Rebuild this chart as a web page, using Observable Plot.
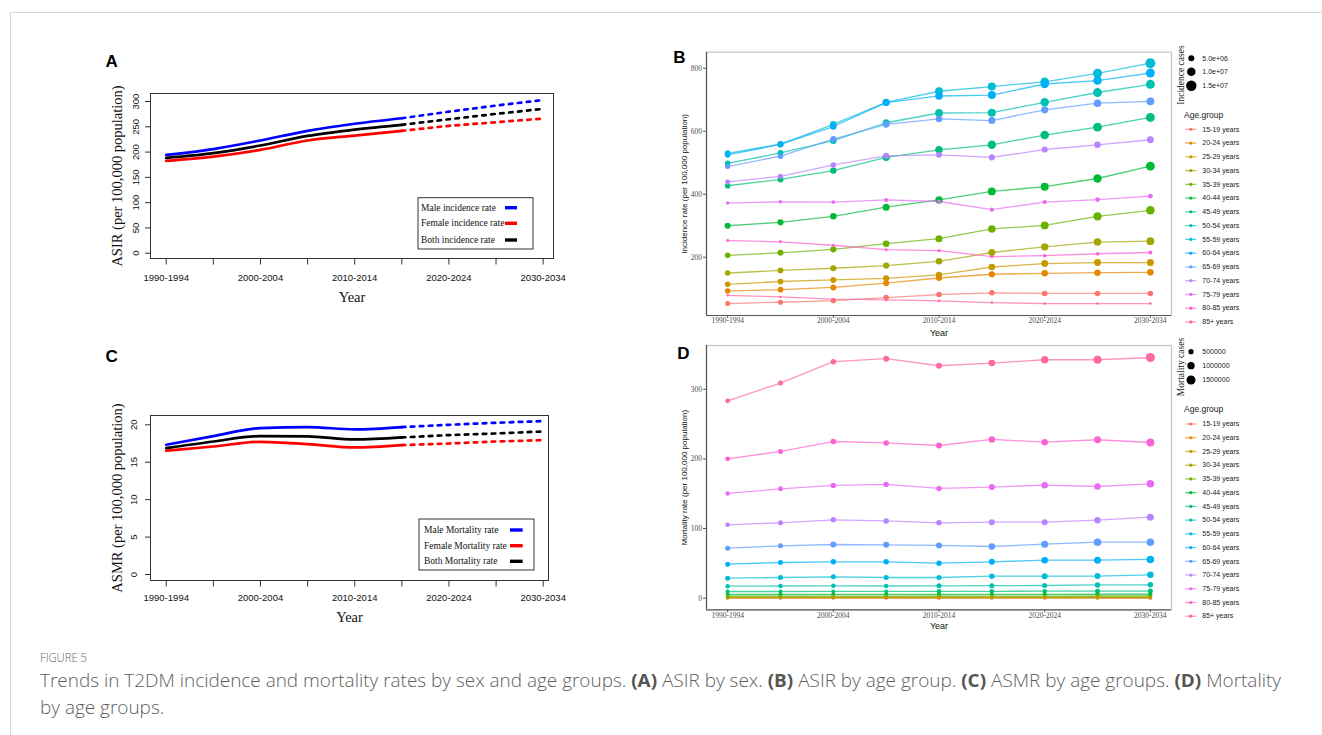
<!DOCTYPE html>
<html><head><meta charset="utf-8">
<script src="https://cdn.jsdelivr.net/npm/d3@7"></script>
<script src="https://cdn.jsdelivr.net/npm/@observablehq/plot@0.6"></script>
<style>
html,body{margin:0;padding:0;background:#fff;width:1322px;height:735px;overflow:hidden;position:relative;font-family:"Liberation Sans",Arial,sans-serif}
.panel{position:absolute}
.panel svg{overflow:visible}
#topline{position:absolute;left:10px;top:12px;width:1312px;height:1px;background:#d6d6d6}
#leftline{position:absolute;left:10px;top:12px;width:1px;height:723px;background:#d6d6d6}
#figlabel{position:absolute;left:40px;top:649px;font-family:"Open Sans";font-weight:300;font-size:12.5px;color:#666;white-space:nowrap;transform-origin:0 0;transform:scaleX(0.9)}
#caption{position:absolute;left:40px;top:667px;font-family:"Open Sans";font-weight:300;font-size:17.5px;line-height:27px;color:#5e5e5e;white-space:nowrap;transform-origin:0 0}
#caption b{color:#555;font-weight:700}
</style>
</head><body>
<div id="topline"></div><div id="leftline"></div>
<div id="pA" class="panel" style="left:95px;top:40px"></div>
<div id="pB" class="panel" style="left:660px;top:40px"></div>
<div id="pC" class="panel" style="left:95px;top:338px"></div>
<div id="pD" class="panel" style="left:660px;top:338px"></div>
<div id="figlabel">FIGURE 5</div>
<div id="caption"><span id="capline1">Trends in T2DM incidence and mortality rates by sex and age groups. <b>(A)</b> ASIR by sex. <b>(B)</b> ASIR by age group. <b>(C)</b> ASMR by age groups. <b>(D)</b> Mortality</span><br>by age groups.</div>
<script>
// ---------- shared categories ----------
const periods = ["1990-1994","1995-1999","2000-2004","2005-2009","2010-2014","2015-2019","2020-2024","2025-2029","2030-2034"];
const periodStart = [1990,1995,2000,2005,2010,2015,2020,2025,2030];
const labeledStarts = [1990,2000,2010,2020,2030];

// ---------- panel A / C : age-standardised rates by sex ----------
const asirNames = ["Male incidence rate","Female incidence rate","Both incidence rate"];
const asmrNames = ["Male Mortality rate","Female Mortality rate","Both Mortality rate"];
const sexColors = ["#0000FF","#FF0000","#000000"];
const asirMale   = [194.5, 206, 223, 242, 256, 267, 280, 292, 303];
const asirFemale = [182.6, 191, 204.5, 223, 232.7, 242, 252, 259, 266.4];
const asirBoth   = [188.6, 198, 213, 232, 244.6, 254, 265, 275.6, 285.5];
const asmrMale   = [17.33, 18.49, 19.55, 19.69, 19.38, 19.69, 20.0, 20.27, 20.49];
const asmrFemale = [16.53, 17.10, 17.73, 17.42, 16.97, 17.28, 17.50, 17.77, 17.95];
const asmrBoth   = [16.88, 17.77, 18.49, 18.44, 18.04, 18.31, 18.62, 18.84, 19.11];
const asirTicks = [0,50,100,150,200,250,300];
const asmrTicks = [0,5,10,15,20];

// ---------- panel B / D : by age group ----------
const groups = ["15-19 years","20-24 years","25-29 years","30-34 years","35-39 years","40-44 years","45-49 years","50-54 years","55-59 years","60-64 years","65-69 years","70-74 years","75-79 years","80-85 years","85+ years"];
const groupColors = ["#F8766D","#E58700","#C99800","#A3A500","#6BB100","#00BA38","#00BF7D","#00C0AF","#00BCD8","#00B0F6","#619CFF","#B983FF","#E76BF3","#FD61D1","#FF67A4"];

// incidence rate per 100,000 (rows follow groups, columns follow periods)
const incidenceRates = [
  [53, 57, 62, 72, 81.5, 87, 85, 85, 85],
  [93, 97, 104, 117.5, 134, 146, 149, 151, 152],
  [114, 123, 128, 133, 144, 169, 180, 183, 183],
  [150, 158, 165, 173.5, 187, 215, 233, 248, 251],
  [206, 214, 225, 243, 259, 290, 301, 330, 349],
  [300, 311, 330, 359, 382, 409, 424, 450, 489],
  [427, 447, 475, 517, 541, 557, 588, 613, 644],
  [498, 531, 570, 627, 658, 659, 692, 723, 749],
  [530, 559, 622, 692, 727, 742, 757, 784, 816],
  [525, 558, 615, 691, 712, 715, 750, 761, 785],
  [488, 521, 575, 622, 639, 634, 668, 689, 695],
  [439, 457, 493, 522, 525, 517, 542, 557, 573],
  [372, 376, 375, 382, 377, 351, 375, 383, 394],
  [253, 249, 238, 224, 221, 202, 205, 211, 215],
  [79, 74, 67, 64.5, 61.4, 56, 53, 53, 53]
];
// incidence cases, millions
const incidenceCasesM = [
  [3.5,3.6,3.8,4.2,4.2,4.3,4.3,4.2,4.2],
  [4.2,4.4,4.8,5.0,5.2,5.3,5.8,5.9,6.0],
  [4.2,4.5,4.9,5.2,5.7,6.1,6.5,6.7,6.8],
  [4.2,4.6,5.1,5.4,6.0,6.8,7.5,7.8,8.5],
  [4.3,4.9,5.3,6.0,6.8,7.8,8.6,9.6,10.0],
  [5.0,5.3,5.9,6.8,7.6,8.7,8.9,9.8,11.0],
  [4.4,5.0,5.8,6.9,7.8,9.8,10.2,11.0,11.3],
  [4.3,4.9,5.9,6.9,8.4,8.9,9.8,10.8,11.2],
  [4.8,5.2,6.0,7.0,8.6,8.9,9.9,11.2,13.5],
  [4.4,5.0,5.8,6.9,7.8,8.8,9.8,10.2,11.0],
  [3.5,4.2,5.0,6.3,6.0,6.8,7.0,7.8,8.6],
  [3.4,3.6,4.2,4.9,4.9,5.1,5.3,5.9,6.5],
  [1.7,1.8,1.9,2.2,2.3,2.4,2.6,2.9,3.3],
  [1.2,1.2,1.3,1.3,1.4,1.6,1.7,1.9,2.2],
  [0.8,0.8,0.85,0.85,0.9,0.9,0.95,1.0,1.0]
];
// mortality rate per 100,000
const mortalityRates = [
  [0.3,0.3,0.3,0.3,0.3,0.3,0.3,0.3,0.3],
  [0.6,0.6,0.6,0.6,0.6,0.6,0.6,0.6,0.6],
  [1.0,1.0,1.0,1.0,1.0,1.0,1.0,1.0,1.0],
  [1.6,1.6,1.6,1.6,1.6,1.6,1.6,1.6,1.6],
  [2.9,2.9,3.0,3.0,2.9,3.0,3.0,3.1,3.1],
  [5.3,5.3,5.4,5.4,5.3,5.4,5.5,5.6,5.6],
  [9.6,9.6,9.7,9.7,9.8,9.9,10.0,10.0,10.2],
  [17.2,17.5,17.7,17.5,17.7,18.0,18.2,19.0,19.2],
  [28.7,29.7,30.7,29.7,29.7,31.6,31.6,31.8,33.6],
  [48.9,51.2,52.2,52.2,50.3,52.2,54.6,54.6,55.6],
  [71.8,75.2,77.1,76.6,75.7,74.2,77.6,80.4,80.4],
  [105.4,108.2,112.5,111,108.2,109.2,109.2,112,116.3],
  [150.4,157,161.9,163.3,157.6,159.5,162.3,160.4,164.3],
  [200.2,210.7,225,223,219.3,228,224,227.5,223.6],
  [283.5,309,339.6,344,333.8,337.6,342.4,342.4,345.7]
];
// mortality cases, thousands
const mortalityCasesK = [
  [227,227,227,227,227,227,227,227,227],
  [227,227,227,227,227,227,227,227,227],
  [227,227,227,227,227,227,227,227,227],
  [227,227,227,227,227,227,227,227,227],
  [227,227,240,250,260,270,280,290,296],
  [296,296,296,296,296,296,296,296,296],
  [296,296,296,296,375,375,375,463,463],
  [375,375,375,375,463,463,463,560,560],
  [463,463,463,463,463,560,667,667,782],
  [463,463,560,560,560,667,782,907,1042],
  [463,463,667,667,667,782,907,1042,1042],
  [375,463,560,560,560,667,667,782,907],
  [375,463,560,560,560,667,782,782,1042],
  [410,463,560,560,667,782,782,907,1185],
  [410,463,560,667,667,782,1042,1185,1500]
];
const incSizeValues = [5e6, 1e7, 1.5e7];
const incSizeLabels = ["5.0e+06","1.0e+07","1.5e+07"];
const morSizeValues = [500000, 1000000, 1500000];
const morSizeLabels = ["500000","1000000","1500000"];

const SERIF = "'Liberation Serif','Times New Roman',serif";
const SANS = "'Liberation Sans',Arial,sans-serif";

// ---------- R-style panels (A, C) ----------
function sexPanel(cfg) {
  const rows = [];
  cfg.series.forEach((vals, k) => vals.forEach((v, i) => rows.push({year: periodStart[i], value: v, sex: cfg.names[k], i})));
  const plot = Plot.plot({
    width: cfg.width, height: cfg.height,
    marginLeft: cfg.ml, marginRight: cfg.mr, marginTop: cfg.mt, marginBottom: cfg.mb,
    x: {domain: cfg.xDomain},
    y: {domain: cfg.yDomain},
    color: {domain: cfg.names, range: sexColors},
    style: {fontFamily: SANS, fontSize: "9.5px", color: "#222", background: "transparent", overflow: "visible"},
    marks: [
      Plot.line(rows.filter(d => d.i <= 5), {x: "year", y: "value", z: "sex", stroke: "sex", strokeWidth: 2.7, curve: "monotone-x"}),
      Plot.line(rows.filter(d => d.i >= 5), {x: "year", y: "value", z: "sex", stroke: "sex", strokeWidth: 2.7, strokeDasharray: "3.5,5.5"}),
      Plot.frame({stroke: "#333", strokeWidth: 1}),
      Plot.axisX({ticks: periodStart, tickSize: 6.5, tickFormat: () => "", label: null, stroke: "#333"}),
      Plot.text(labeledStarts, {x: d => d, frameAnchor: "bottom", dy: cfg.xLabDy, text: d => periods[periodStart.indexOf(d)], fontSize: 9.5, lineAnchor: "middle", fill: "#111"}),
      Plot.axisY({ticks: cfg.yTicks, tickSize: 5, tickFormat: () => "", label: null, stroke: "#333"}),
      Plot.text(cfg.yTicks, {y: d => d, frameAnchor: "left", dx: cfg.yLabDx, rotate: -90, text: d => String(d), fontSize: 9.5, textAnchor: "middle", lineAnchor: "middle", fill: "#111"}),
      Plot.text(["Year"], {frameAnchor: "bottom", dy: cfg.titleDy, text: d => d, fontFamily: SERIF, fontSize: 14.5, lineAnchor: "middle", fill: "#111"}),
      Plot.text([cfg.yLabel], {frameAnchor: "left", dx: -33, rotate: -90, text: d => d, fontFamily: SERIF, fontSize: 14.5, textAnchor: "middle", lineAnchor: "middle", fill: "#111"}),
      Plot.text([cfg.letter], {frameAnchor: "top-left", dx: cfg.letterDx, dy: cfg.letterDy, text: d => d, fontFamily: SANS, fontWeight: "bold", fontSize: 17, textAnchor: "start", lineAnchor: "middle", fill: "#000"})
    ]
  });
  // legend box
  const g = d3.select(plot).append("g").attr("text-anchor", "start");
  const b = cfg.legend;
  g.append("rect").attr("x", b.x).attr("y", b.y).attr("width", b.w).attr("height", b.h)
    .attr("fill", "#fff").attr("stroke", "#333").attr("stroke-width", 1);
  cfg.names.forEach((n, k) => {
    const yy = b.y + b.rows[k];
    g.append("text").attr("x", b.x + b.tx).attr("y", yy).attr("dy", "0.32em").attr("text-anchor", "start")
      .style("font-family", SERIF).style("font-size", "9.5px").attr("fill", "#111").text(n);
    g.append("line").attr("x1", b.x + b.s0).attr("x2", b.x + b.s1).attr("y1", yy).attr("y2", yy)
      .attr("stroke", sexColors[k]).attr("stroke-width", 3.4);
  });
  document.getElementById(cfg.el).appendChild(plot);
}

sexPanel({el: "pA", width: 470, height: 275, ml: 55, mr: 12, mt: 53, mb: 57,
  xDomain: [1988.33, 2031.1], yDomain: [-10.5, 315.9], yTicks: asirTicks,
  series: [asirMale, asirFemale, asirBoth], names: asirNames,
  xLabDy: 19, yLabDx: -15, titleDy: 39, yLabel: "ASIR (per 100,000 population)",
  letter: "A", letterDx: -45, letterDy: -32,
  legend: {x: 323, y: 157.7, w: 115, h: 51.3, tx: 3, rows: [10, 25.6, 42.3], s0: 87, s1: 99}});

sexPanel({el: "pC", width: 470, height: 292, ml: 55, mr: 17, mt: 77, mb: 50,
  xDomain: [1988.33, 2030.56], yDomain: [-0.8, 21.24], yTicks: asmrTicks,
  series: [asmrMale, asmrFemale, asmrBoth], names: asmrNames,
  xLabDy: 17.7, yLabDx: -16.7, titleDy: 37.3, yLabel: "ASMR (per 100,000 population)",
  letter: "C", letterDx: -45, letterDy: -58.5,
  legend: {x: 324, y: 181, w: 115, h: 51, tx: 5, rows: [11, 26.7, 42.3], s0: 91, s1: 103.7}});

// ---------- ggplot-style panels (B, D) ----------
function agePanel(cfg) {
  const rows = [];
  groups.forEach((g, k) => periodStart.forEach((yr, i) => rows.push({year: yr, value: cfg.rates[k][i], cases: cfg.cases[k][i] * cfg.caseUnit, group: g})));
  const plot = Plot.plot({
    width: cfg.width, height: cfg.height, marginLeft: 46, marginRight: 139, marginTop: cfg.mt, marginBottom: cfg.mb,
    x: {domain: [1988, 2032]},
    y: {domain: cfg.yDomain},
    color: {domain: groups, range: groupColors},
    r: {domain: [0, cfg.rMaxValue], range: [0, cfg.rMaxPx]},
    style: {fontFamily: SANS, fontSize: "8px", color: "#333", background: "transparent", overflow: "visible"},
    marks: [
      Plot.frame({stroke: "#c4c4c4", strokeWidth: 1.2}),
      Plot.ruleX([1988], {stroke: "#5a5a5a", strokeWidth: 1.2}),
      Plot.ruleY([cfg.yDomain[0]], {stroke: "#5a5a5a", strokeWidth: 1.2}),
      Plot.axisX({ticks: labeledStarts, tickSize: 3, tickFormat: () => "", label: null, stroke: "#5a5a5a"}),
      Plot.text(labeledStarts, {x: d => d, frameAnchor: "bottom", dy: cfg.xLabDy, text: d => periods[periodStart.indexOf(d)], fontFamily: SERIF, fontSize: 7.5, lineAnchor: "middle", fill: "#4d4d4d"}),
      Plot.axisY({ticks: cfg.yTicks, tickSize: 3, tickFormat: () => "", label: null, stroke: "#5a5a5a"}),
      Plot.text(cfg.yTicks, {y: d => d, frameAnchor: "left", dx: -4.5, text: d => String(d), fontFamily: SERIF, fontSize: 7.5, textAnchor: "end", lineAnchor: "middle", fill: "#4d4d4d"}),
      Plot.line(rows, {x: "year", y: "value", z: "group", stroke: "group", strokeWidth: 1.3, strokeOpacity: 0.7}),
      Plot.dot(rows, {x: "year", y: "value", r: "cases", fill: "group"}),
      Plot.text([cfg.yTitle], {frameAnchor: "left", dx: -22, rotate: -90, text: d => d, fontFamily: SANS, fontSize: 8, textAnchor: "middle", lineAnchor: "middle", fill: "#111"}),
      Plot.text(["Year"], {frameAnchor: "bottom", dy: cfg.yearDy, text: d => d, fontFamily: SANS, fontSize: 9, lineAnchor: "middle", fill: "#111"}),
      Plot.text([cfg.letter], {frameAnchor: "top-left", dx: cfg.letterDx, dy: cfg.letterDy, text: d => d, fontFamily: SANS, fontWeight: "bold", fontSize: 17, textAnchor: "start", lineAnchor: "middle", fill: "#000"})
    ]
  });
  const rScale = plot.scale("r");
  const L = cfg.legend;
  const g = d3.select(plot).append("g").attr("text-anchor", "start").style("font-family", SANS).attr("fill", "#1a1a1a");
  g.append("text").attr("transform", `translate(${L.titleX},${L.titleY}) rotate(-90)`)
    .attr("text-anchor", "middle").attr("dy", "0.32em").style("font-family", SERIF).style("font-size", "9.5px").text(cfg.sizeTitle);
  cfg.sizeValues.forEach((v, i) => {
    g.append("circle").attr("cx", L.circleX).attr("cy", L.sizeY[i]).attr("r", rScale.apply(v)).attr("fill", "#000");
    g.append("text").attr("x", L.labelX).attr("y", L.sizeY[i]).attr("dy", "0.32em").attr("text-anchor", "start").style("font-size", "7px").text(cfg.sizeLabels[i]);
  });
  g.append("text").attr("x", L.groupTitleX).attr("y", L.groupTitleY).attr("dy", "0.32em").attr("text-anchor", "start").style("font-size", "8.5px").text("Age.group");
  groups.forEach((grp, i) => {
    const yy = L.item0 + i * L.itemStep;
    g.append("line").attr("x1", L.keyX0).attr("x2", L.keyX1).attr("y1", yy).attr("y2", yy)
      .attr("stroke", groupColors[i]).attr("stroke-width", 1.3).attr("stroke-opacity", 0.7);
    g.append("circle").attr("cx", (L.keyX0 + L.keyX1) / 2).attr("cy", yy).attr("r", 1.6).attr("fill", groupColors[i]);
    g.append("text").attr("x", L.labelX).attr("y", yy).attr("dy", "0.32em").attr("text-anchor", "start").style("font-size", "7px").text(grp);
  });
  document.getElementById(cfg.el).appendChild(plot);
}

agePanel({el: "pB", width: 650, height: 300, mt: 11.7, mb: 25,
  yDomain: [15, 851], yTicks: [200, 400, 600, 800],
  rates: incidenceRates, cases: incidenceCasesM, caseUnit: 1e6, rMaxValue: 1.5e7, rMaxPx: 5.2,
  xLabDy: 5, yearDy: 17.7, yTitle: "Incidence rate (per 100,000 population)",
  letter: "B", letterDx: -33.3, letterDy: 5.8,
  sizeTitle: "Incidence cases", sizeValues: incSizeValues, sizeLabels: incSizeLabels,
  legend: {titleX: 520.7, titleY: 35, circleX: 531.3, sizeY: [18.3, 31.7, 45.7], labelX: 542.3,
    groupTitleX: 524, groupTitleY: 75, item0: 89.3, itemStep: 13.76, keyX0: 525.3, keyX1: 536.3}});

agePanel({el: "pD", width: 650, height: 295, mt: 7, mb: 23.7,
  yDomain: [-16.7, 362.9], yTicks: [0, 100, 200, 300],
  rates: mortalityRates, cases: mortalityCasesK, caseUnit: 1e3, rMaxValue: 1.5e6, rMaxPx: 4.5,
  xLabDy: 6, yearDy: 16.7, yTitle: "Mortality rate (per 100,000 population)",
  letter: "D", letterDx: -29.3, letterDy: 8.5,
  sizeTitle: "Mortality cases", sizeValues: morSizeValues, sizeLabels: morSizeLabels,
  legend: {titleX: 520.7, titleY: 29, circleX: 531, sizeY: [13.7, 27.7, 42], labelX: 542.3,
    groupTitleX: 524, groupTitleY: 71.3, item0: 86, itemStep: 13.73, keyX0: 525.3, keyX1: 536.3}});

// caption width fit
const cap = document.getElementById("caption");
const w1 = document.getElementById("capline1").getBoundingClientRect().width;
const target = 1241;
cap.style.transform = `scaleX(${target / w1})`;
</script>
</body></html>
